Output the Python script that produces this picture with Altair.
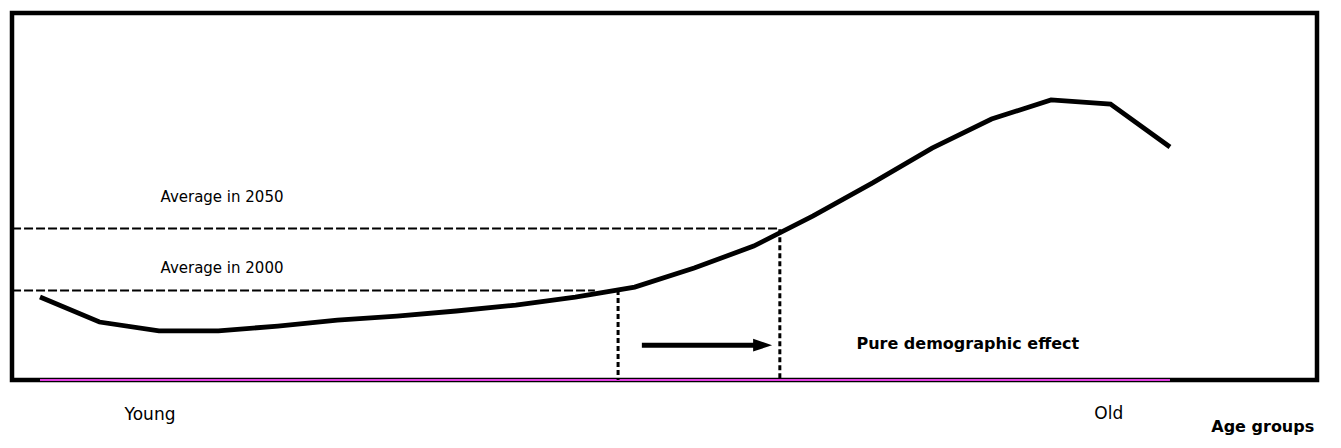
import altair as alt
import pandas as pd

# ---------------- data ----------------
age_index = list(range(20))
curve_values = [22.6, 15.8, 13.4, 13.4, 14.7, 16.3, 17.4, 18.8, 20.4, 22.6,
                25.3, 30.5, 36.5, 44.7, 53.7, 63.2, 71.1, 76.3, 75.2, 63.5]

avg_labels = ["Average in 2050", "Average in 2000"]
avg_values = [41.3, 24.4]
avg_start_x = [-0.47, -0.47]
avg_end_x = [12.44, 9.33]
drop_x = [12.44, 9.72]
drop_top = [41.1, 24.5]
avg_label_x = [3.06, 3.06]
avg_label_y = [48.5, 29.2]

arrow_start_x = [10.12]
arrow_end_x = [12.15]
arrow_y = [9.5]

effect_label = ["Pure demographic effect"]
effect_x = [15.6]
effect_y = [8.4]

axis_labels = ["Young", "Old"]
axis_label_x = [1.85, 17.97]
axis_label_y = [-10.9, -10.7]

axis_title = ["Age groups"]
axis_title_x = [20.56]
axis_title_y = [-14.3]

base_x = [0]
base_x2 = [19]
base_y = [0]

X_DOMAIN = [-0.4708, 21.472]
Y_DOMAIN = [0, 100]

xs = alt.Scale(domain=X_DOMAIN, nice=False, zero=False)
ys = alt.Scale(domain=Y_DOMAIN, nice=False, zero=False)


def X(f):
    return alt.X(f, type="quantitative", scale=xs, axis=None)


def Y(f):
    return alt.Y(f, type="quantitative", scale=ys, axis=None)


curve_df = pd.DataFrame({"age": age_index, "value": curve_values})
avg_df = pd.DataFrame({
    "label": avg_labels, "value": avg_values, "x0": avg_start_x, "x1": avg_end_x,
    "dx": drop_x, "top": drop_top, "lx": avg_label_x, "ly": avg_label_y,
    "zero": [0, 0],
})
arrow_df = pd.DataFrame({"x0": arrow_start_x, "x1": arrow_end_x, "y": arrow_y})
effect_df = pd.DataFrame({"label": effect_label, "x": effect_x, "y": effect_y})
axlab_df = pd.DataFrame({"label": axis_labels, "x": axis_label_x, "y": axis_label_y})
title_df = pd.DataFrame({"label": axis_title, "x": axis_title_x, "y": axis_title_y})
base_df = pd.DataFrame({"x0": base_x, "x1": base_x2, "y": base_y})

FONT = "DejaVu Sans"

base_line = alt.Chart(base_df).mark_rule(color="#e03ce0", strokeWidth=2).encode(
    x=X("x0"), x2="x1", y=Y("y"))

hdash = alt.Chart(avg_df).mark_rule(color="black", strokeWidth=2, strokeDash=[9, 3]).encode(
    x=X("x0"), x2="x1", y=Y("value"))

vdash = alt.Chart(avg_df).mark_rule(color="black", strokeWidth=3, strokeDash=[5, 3]).encode(
    x=X("dx"), y=Y("top"), y2="zero")

curve = alt.Chart(curve_df).mark_line(color="black", strokeWidth=4.8, strokeCap="butt").encode(
    x=X("age"), y=Y("value"))

shaft = alt.Chart(arrow_df).mark_rule(color="black", strokeWidth=5).encode(
    x=X("x0"), x2="x1", y=Y("y"))

head = alt.Chart(arrow_df).mark_point(
    shape="M-1,-0.68L1,0L-1,0.68Z", size=361, filled=True, color="black", opacity=1, strokeWidth=0
).encode(x=X("x1"), y=Y("y"))

avg_text = alt.Chart(avg_df).mark_text(
    font=FONT, fontSize=15, align="center", baseline="alphabetic", color="black"
).encode(x=X("lx"), y=Y("ly"), text="label")

effect_text = alt.Chart(effect_df).mark_text(
    font=FONT, fontSize=16, fontWeight="bold", align="center", baseline="alphabetic", color="black"
).encode(x=X("x"), y=Y("y"), text="label")

axlab_text = alt.Chart(axlab_df).mark_text(
    font=FONT, fontSize=17, align="center", baseline="alphabetic", color="black"
).encode(x=X("x"), y=Y("y"), text="label")

title_text = alt.Chart(title_df).mark_text(
    font=FONT, fontSize=16, fontWeight="bold", align="center", baseline="alphabetic", color="black"
).encode(x=X("x"), y=Y("y"), text="label")

chart = alt.layer(
    base_line, hdash, vdash, curve, shaft, head, avg_text, effect_text, axlab_text, title_text
).properties(
    width=1305, height=367,
    padding={"left": 4, "top": 5, "right": 10, "bottom": 60},
    autosize=alt.AutoSizeParams(type="none"),
    background="white",
).configure_view(
    stroke="black", strokeWidth=4.5, fill="white"
)

chart.save("out.html", embed_options={"renderer": "svg", "actions": False})
